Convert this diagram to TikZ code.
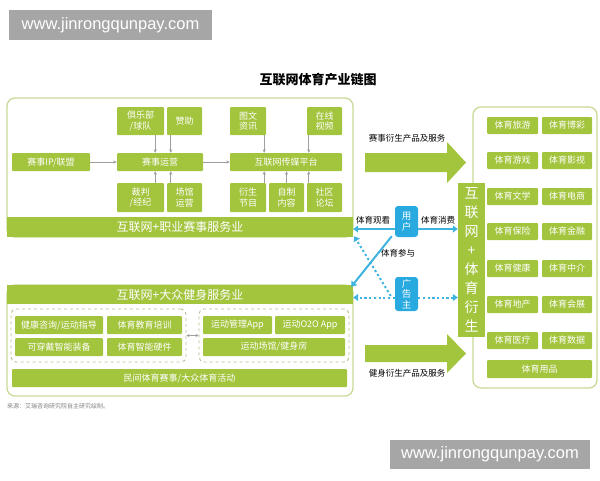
\documentclass[tikz,border=0pt]{standalone}
\usepackage{fontspec}
\setmainfont{Noto Sans CJK SC}
\newfontfamily\wmfont{Liberation Sans}
\usetikzlibrary{arrows.meta,calc}
\definecolor{gr}{RGB}{163,196,61}
\definecolor{frm}{RGB}{200,216,150}
\definecolor{cy}{RGB}{64,180,222}
\definecolor{cyb}{RGB}{40,170,225}
\definecolor{wm}{RGB}{166,166,166}
\newcommand\gbx[7][gbox]{\node[#1,minimum width={(#5)-(#3)},minimum height={(#6)-(#4)}] (#2) at ({((#3)+(#5))/2},{((#4)+(#6))/2}) {#7};}
\begin{document}
\begin{tikzpicture}[x=1pt,y=-1pt,
  gbox/.style={fill=gr,text=white,inner sep=0pt,rounded corners=1pt,align=center,font=\fontsize{9}{10.5}\selectfont},
  barbox/.style={gbox,rounded corners=0pt,font=\fontsize{12}{13}\selectfont},
  frame/.style={draw=frm,line width=1.3pt,rounded corners=8pt,inner sep=0pt},
  dframe/.style={draw=frm!70!gray,dashed,line width=0.9pt,rounded corners=5pt,inner sep=0pt},
  cbox/.style={fill=cyb,text=white,inner sep=0pt,rounded corners=3pt,align=center,font=\fontsize{9.5}{10.5}\selectfont},
  wmbox/.style={fill=wm,text=white,inner sep=0pt,font=\wmfont\fontsize{16.5}{18}\selectfont},
  lbl/.style={text=black,inner sep=0pt,font=\fontsize{8.5}{10}\selectfont},
  garr/.style={draw=gray!75,line width=0.7pt,-{Stealth[length=3.5pt,width=3.2pt]}},
  carr/.style={draw=cy,line width=2pt,-{Triangle[length=5pt,width=7pt]}},
  darr/.style={carr,dash pattern=on 2.2pt off 2.5pt}]
\useasboundingbox (0,0) rectangle (600,480);
% watermarks
\gbx[wmbox]{wm1}{9}{10}{212}{40}{www.jinrongqunpay.com}
\gbx[wmbox]{wm2}{390}{440}{590}{469}{www.jinrongqunpay.com}
% title
\node[inner sep=0pt,font=\bfseries\fontsize{13}{15}\selectfont] (title) at (318,80) {互联网体育产业链图};
% ===== top section =====
\gbx[frame]{topfr}{7}{98}{353}{237}{}
\gbx[barbox]{zybar}{7}{217}{353}{237}{互联网+职业赛事服务业}
\gbx{ip}{12}{153}{90}{171}{赛事IP/联盟}
\gbx{ss}{117}{153}{203}{171}{赛事运营}
\gbx{jlb}{117}{107}{164}{135}{俱乐部\\/球队}
\gbx{zz}{167}{107}{202}{135}{赞助}
\gbx{cp}{117}{183}{164}{212}{裁判\\/经纪}
\gbx{cg}{167}{183}{202}{212}{场馆\\运营}
\gbx{pf}{230}{153}{342}{171}{互联网传媒平台}
\gbx{tw}{230}{107}{266}{135}{图文\\资讯}
\gbx{zx}{307}{107}{342}{135}{在线\\视频}
\gbx{ys}{230}{183}{266}{212}{衍生\\节目}
\gbx{zz2}{269}{183}{304}{212}{自制\\内容}
\gbx{sq}{307}{183}{342}{212}{社区\\论坛}
\draw[garr] (ip.east) -- (ss.west);
\draw[garr] (ss.east) -- (pf.west);
\draw[garr] ([xshift=-9pt]jlb.south east) -- ([xshift=-9pt]jlb.south east |- ss.north);
\draw[garr] ([xshift=4pt]zz.south west) -- ([xshift=4pt]zz.south west |- ss.north);
\draw[garr] ([xshift=-9pt]cp.north east) -- ([xshift=-9pt]cp.north east |- ss.south);
\draw[garr] ([xshift=4pt]cg.north west) -- ([xshift=4pt]cg.north west |- ss.south);
\draw[garr] ([xshift=-2pt]tw.south east) -- ([xshift=-2pt]tw.south east |- pf.north);
\draw[garr] ([xshift=2pt]zx.south west) -- ([xshift=2pt]zx.south west |- pf.north);
\draw[garr] ([xshift=-2pt]ys.north east) -- ([xshift=-2pt]ys.north east |- pf.south);
\draw[garr] (zz2.north) -- (zz2.north |- pf.south);
\draw[garr] ([xshift=2pt]sq.north west) -- ([xshift=2pt]sq.north west |- pf.south);
% ===== bottom section =====
\gbx[frame]{botfr}{7}{285}{353}{396}{}
\gbx[barbox]{dzbar}{7}{285}{353}{304}{互联网+大众健身服务业}
\gbx[dframe]{dl}{11}{309}{186}{362}{}
\gbx[dframe]{dr}{199}{309}{349}{362}{}
\gbx{jk}{15}{316}{103}{334}{健康咨询/运动指导}
\gbx{jy}{107}{316}{182}{334}{体育教育培训}
\gbx{kc}{15}{338}{103}{356}{可穿戴智能装备}
\gbx{yj}{107}{338}{182}{356}{体育智能硬件}
\gbx{gl}{203}{316}{272}{334}{运动管理App}
\gbx{oto}{275}{316}{345}{334}{运动O2O App}
\gbx{cgj}{203}{338}{345}{356}{运动场馆/健身房}
\gbx{mj}{12}{369}{347}{387}{民间体育赛事/大众体育活动}
\draw[garr,{Stealth[length=3pt,width=3pt]}-{Stealth[length=3pt,width=3pt]}] (dl.east) -- (dr.west);
\node[anchor=west,inner sep=0pt,text=gray,font=\fontsize{6}{7}\selectfont] (src) at (7,406) {来源：艾瑞咨询研究院自主研究绘制。};
% ===== right section =====
\gbx[frame]{rfr}{473}{107}{597}{388}{}
\gbx{r11}{487}{117}{538}{134}{体育旅游}
\gbx{r12}{542}{117}{592}{134}{体育博彩}
\gbx{r21}{487}{152}{538}{169}{体育游戏}
\gbx{r22}{542}{152}{592}{169}{体育影视}
\gbx{r31}{487}{188}{538}{205}{体育文学}
\gbx{r32}{542}{188}{592}{205}{体育电商}
\gbx{r41}{487}{223}{538}{240}{体育保险}
\gbx{r42}{542}{223}{592}{240}{体育金融}
\gbx{r51}{487}{260}{538}{277}{体育健康}
\gbx{r52}{542}{260}{592}{277}{体育中介}
\gbx{r61}{487}{296}{538}{313}{体育地产}
\gbx{r62}{542}{296}{592}{313}{体育会展}
\gbx{r71}{487}{332}{538}{349}{体育医疗}
\gbx{r72}{542}{332}{592}{349}{体育数据}
\gbx{r81}{487}{360}{592}{378}{体育用品}
\gbx[gbox,rounded corners=0pt,font=\fontsize{14}{19}\selectfont]{tyys}{458}{183}{485}{337}{互\\联\\网\\+\\体\\育\\衍\\生}
% ===== middle =====
\fill[gr] (365,153) -- (447,153) -- (447,142) -- (466,162.5) -- (447,183) -- (447,172) -- (365,172) -- cycle;
\fill[gr] (365,345) -- (447,345) -- (447,334) -- (466,353.5) -- (447,373) -- (447,362) -- (365,362) -- cycle;
\node[lbl] (l1) at (407,138) {赛事衍生产品及服务};
\node[lbl] (l2) at (407,373) {健身衍生产品及服务};
\gbx[cbox]{yh}{395}{206}{418}{237}{用\\户}
\gbx[cbox]{ggz}{395}{277}{418}{311}{广\\告\\主}
\draw[carr] ([yshift=-7.5pt]yh.west) -- ([yshift=-7.5pt]yh.west -| zybar.east);
\draw[carr] ([yshift=-7.5pt]yh.east) -- ([yshift=-7.5pt]yh.east -| tyys.west);
\draw[carr] ([xshift=-3pt,yshift=1pt]yh.south west) -- ([xshift=-2pt,yshift=-2pt]dzbar.north east);
\draw[darr] ([yshift=-3.5pt]ggz.west) -- ([yshift=-3.5pt]ggz.west -| dzbar.east);
\draw[darr] ([yshift=-3.5pt]ggz.east) -- ([yshift=-3.5pt]ggz.east -| tyys.west);
\draw[darr] ([xshift=-4pt,yshift=-2pt]ggz.west) -- ([xshift=1pt,yshift=1pt]zybar.south east);
\node[lbl] (t1) at (373,220) {体育观看};
\node[lbl] (t2) at (438,220) {体育消费};
\node[lbl] (t3) at (398,253) {体育参与};
\end{tikzpicture}
\end{document}
